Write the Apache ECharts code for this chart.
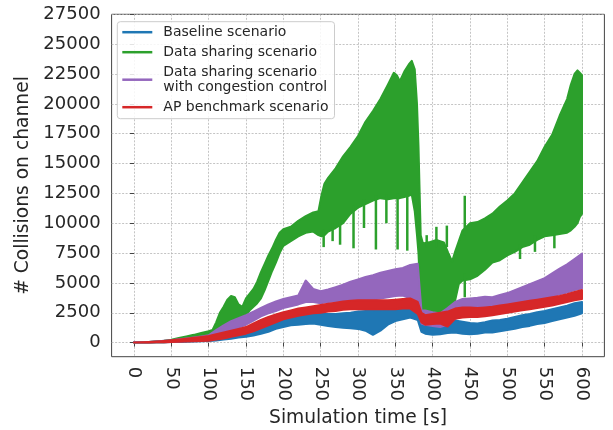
<!DOCTYPE html>
<html>
<head>
<meta charset="utf-8">
<title>Collisions on channel</title>
<script src="https://cdn.jsdelivr.net/npm/echarts@6/dist/echarts.min.js"></script>
<style>
  html, body { margin: 0; padding: 0; background: #fff; }
  #chart { width: 613px; height: 430px; }
</style>
</head>
<body>
<div id="chart"></div>
<script>
// tick labels
const xTicks = [0, 50, 100, 150, 200, 250, 300, 350, 400, 450, 500, 550, 600]
const yTicks = [0, 2500, 5000, 7500, 10000, 12500, 15000, 17500, 20000, 22500, 25000, 27500]

// shared time axis (s) for baseline / congestion control / AP benchmark
const timeSec = [0, 10, 20, 30, 40, 50, 60, 70, 80, 90,
  100, 110, 120, 130, 140, 150, 160, 170, 180, 190,
  200, 210, 220, 230, 240, 250, 260, 270, 280, 290,
  300, 310, 320, 330, 340, 350, 360, 370, 380, 385,
  390, 400, 410, 420, 430, 440, 450, 460, 470, 480,
  490, 500, 510, 520, 530, 540, 550, 560, 570, 580,
  590, 600]

// each noisy curve is kept as its lower / upper envelope
const baselineLow = [0, 0, 0, 20, 30, 50, 60, 80, 100, 120,
  140, 180, 250, 330, 420, 500, 600, 750, 900, 1150,
  1300, 1450, 1500, 1550, 1600, 1500, 1400, 1300, 1250, 1200,
  1150, 1000, 650, 1000, 1500, 1800, 1950, 2100, 1900, 900,
  750, 650, 700, 800, 850, 750, 700, 750, 850, 850,
  950, 1050, 1150, 1300, 1400, 1550, 1650, 1800, 1950, 2100,
  2250, 2450]
const baselineHigh = [30, 40, 60, 90, 120, 150, 180, 220, 260, 300,
  340, 400, 520, 650, 800, 950, 1150, 1400, 1650, 1950,
  2150, 2250, 2300, 2350, 2450, 2450, 2400, 2400, 2450, 2500,
  2600, 2650, 2650, 2700, 2800, 2900, 3000, 3100, 3000, 2100,
  1750, 1600, 1700, 1800, 1850, 1750, 1650, 1600, 1700, 1850,
  1900, 2000, 2150, 2300, 2400, 2550, 2650, 2800, 2950, 3100,
  3300, 3400]

const congestionLow = [0, 0, 0, 20, 40, 60, 100, 150, 200, 250,
  300, 450, 700, 1000, 1250, 1500, 1850, 2200, 2450, 2650,
  2900, 3050, 3200, 3400, 3400, 3300, 3400, 3450, 3450, 3500,
  3500, 3550, 3600, 3700, 3800, 3900, 3950, 3700, 3300, 1600,
  1500, 1400, 1300, 1500, 2000, 2250, 2300, 2450, 2600, 2800,
  2950, 3000, 3100, 3250, 3400, 3500, 3650, 3850, 4050, 4200,
  4400, 4550]
const congestionHigh = [30, 40, 60, 100, 150, 200, 280, 350, 430, 520,
  620, 1050, 1450, 1800, 2050, 2300, 2600, 2900, 3200, 3450,
  3650, 3800, 3950, 5200, 4500, 4300, 4450, 4650, 4850, 5100,
  5300, 5500, 5650, 5850, 6000, 6150, 6250, 6500, 6600, 2700,
  2700, 2550, 2450, 2900, 3400, 3650, 3700, 3750, 3850, 3800,
  4000, 4150, 4400, 4650, 4900, 5150, 5400, 5800, 6200, 6550,
  7000, 7450]

const benchmarkLow = [0, 0, 10, 20, 30, 50, 70, 90, 110, 130,
  150, 250, 350, 480, 620, 750, 950, 1200, 1450, 1700,
  1950, 2100, 2250, 2350, 2450, 2500, 2600, 2650, 2750, 2800,
  2800, 2800, 2800, 2800, 2800, 2800, 2850, 2850, 2400, 1700,
  1500, 1550, 1600, 1350, 2000, 2100, 2150, 2150, 2200, 2300,
  2400, 2500, 2600, 2700, 2800, 2900, 3000, 3100, 3250, 3400,
  3550, 3650]
const benchmarkHigh = [0, 20, 50, 90, 140, 200, 260, 330, 400, 480,
  560, 700, 850, 1000, 1150, 1300, 1600, 1900, 2150, 2350,
  2550, 2700, 2850, 2950, 3050, 3150, 3250, 3350, 3450, 3500,
  3550, 3550, 3550, 3550, 3550, 3600, 3650, 3700, 3400, 2500,
  2300, 2400, 2500, 2600, 2850, 2950, 2950, 2900, 2950, 3000,
  3100, 3200, 3300, 3400, 3500, 3600, 3700, 3800, 3900, 4050,
  4250, 4400]

// data sharing scenario has its own (denser) time points
const sharingTime = [0, 10, 20, 30, 40, 50, 60, 70, 80, 90,
  100, 105, 110, 115, 120, 125, 130, 135, 140, 145,
  150, 155, 160, 165, 170, 175, 180, 185, 190, 195,
  200, 210, 220, 230, 240, 247, 251, 255, 260, 270,
  280, 290, 300, 310, 320, 330, 340, 348, 352, 356,
  362, 368, 372, 376, 379, 381, 384, 387, 395, 405,
  415, 421, 426, 430, 435, 440, 450, 460, 470, 480,
  490, 500, 510, 520, 530, 540, 550, 560, 570, 580,
  585, 590, 594, 597, 600]
const sharingLow = [0, 0, 10, 20, 40, 80, 150, 250, 350, 450,
  550, 600, 700, 900, 1100, 1400, 1800, 1900, 1700, 1500,
  2300, 2700, 3000, 3300, 3700, 4400, 5200, 6000, 6700, 7500,
  8100, 8500, 8900, 9200, 9300, 9000, 8900, 9000, 9300, 9600,
  10000, 10800, 11300, 11600, 11900, 12100, 12000, 12100, 12100, 12100,
  12200, 12300, 12400, 11000, 9000, 7500, 3000, 2300, 2200, 2200,
  2300, 2500, 2800, 3500, 4900, 5200, 5300, 5600, 6100, 6700,
  6900, 7300, 7600, 8000, 8200, 8600, 8900, 9000, 9100, 9200,
  9400, 9700, 10000, 10500, 10800]
const sharingHigh = [0, 20, 50, 100, 160, 250, 380, 520, 650, 800,
  950, 1050, 1700, 2500, 3000, 3600, 3900, 3800, 3200, 3000,
  3700, 4100, 4500, 5100, 5900, 6600, 7300, 7900, 8600, 9200,
  9500, 9700, 10200, 10600, 10900, 11000, 12300, 13300, 13800, 14600,
  15600, 16400, 17300, 18500, 19400, 20400, 21600, 22600, 22400, 21900,
  22700, 23300, 23600, 22900, 20000, 16500, 9000, 8300, 8400, 8600,
  8400, 7500, 6800, 7600, 8500, 9400, 10000, 10100, 10400, 10800,
  11400, 11900, 12500, 13400, 14300, 15200, 16400, 17400, 19000, 20400,
  21600, 22500, 22800, 22600, 22400]

// single-sample spikes of the data sharing curve
const spikeTime = [254, 266, 276, 294, 308, 324, 338, 353, 366, 392, 405, 419, 443, 443, 517, 537, 563]
const spikeLow = [8000, 8500, 8200, 7900, 9600, 7800, 10000, 7800, 7700, 8000, 8000, 8000, 3800, 9000, 7000, 7600, 7900]
const spikeHigh = [9500, 10000, 10200, 11500, 12000, 12300, 12400, 12500, 12500, 9000, 9700, 9800, 5800, 12300, 8200, 9000, 9400]

const FONT = 'DejaVu Sans'
const TEXT = '#262626'

function bandSeries(name, color, time, low, high) {
  return {
    name: name,
    type: 'custom',
    coordinateSystem: 'cartesian2d',
    data: time.map((t, i) => [t, low[i], high[i]]),
    encode: { x: 0, y: [1, 2] },
    itemStyle: { color: color },
    renderItem: function (params, api) {
      // the whole envelope is drawn once as one polygon
      if (params.dataIndexInside !== 0) return null
      const n = params.dataInsideLength
      const upper = []
      const lower = []
      for (let i = 0; i < n; i++) {
        upper.push(api.coord([api.value(0, i), api.value(2, i)]))
        lower.push(api.coord([api.value(0, i), api.value(1, i)]))
      }
      return {
        type: 'polygon',
        shape: { points: upper.concat(lower.reverse()) },
        style: { fill: color, stroke: color, lineWidth: 2, lineJoin: 'round' }
      }
    }
  }
}

const chart = echarts.init(document.getElementById('chart'))
chart.setOption({
  animation: false,
  backgroundColor: '#fff',
  grid: {
    left: 111.6, right: 8.6, top: 14.3, bottom: 73.3,
    show: true, borderColor: '#444', borderWidth: 1,
    containLabel: false, outerBoundsMode: 'none'
  },
  legend: {
    orient: 'vertical',
    left: 117.3, top: 21.7,
    padding: [3, 6, 4, 5],
    itemGap: 5,
    itemWidth: 30, itemHeight: 2.5,
    icon: 'rect',
    backgroundColor: 'rgba(255,255,255,0.85)',
    borderColor: '#cccccc', borderWidth: 1, borderRadius: 3,
    textStyle: { fontFamily: FONT, fontSize: 14, lineHeight: 15, color: TEXT, padding: [0, 0, 0, 6] },
    data: ['Baseline scenario', 'Data sharing scenario', 'Data sharing scenario\nwith congestion control', 'AP benchmark scenario']
  },
  xAxis: {
    type: 'value', min: -30, max: 630,
    name: 'Simulation time [s]', nameLocation: 'middle', nameGap: 47,
    nameTextStyle: { fontFamily: FONT, fontSize: 18.7, color: TEXT },
    axisLine: { show: false },
    axisTick: { show: true, length: 4, customValues: xTicks, lineStyle: { color: '#444' } },
    axisLabel: { customValues: xTicks, rotate: -90, margin: 10, fontFamily: FONT, fontSize: 18, color: TEXT,
      formatter: v => String(v) },
    splitLine: { show: true, lineStyle: { color: '#b5b5b5', width: 0.8, type: [2, 1.5] } }
  },
  yAxis: {
    type: 'value', min: -1180, max: 27500,
    name: '# Collisions on channel', nameLocation: 'middle', nameGap: 77,
    nameTextStyle: { fontFamily: FONT, fontSize: 18.7, color: TEXT },
    axisLine: { show: false },
    axisTick: { show: true, length: 4, customValues: yTicks, lineStyle: { color: '#444' } },
    axisLabel: { customValues: yTicks, margin: 11, fontFamily: FONT, fontSize: 18, color: TEXT,
      formatter: v => String(v) },
    splitLine: { show: true, lineStyle: { color: '#b5b5b5', width: 0.8, type: [2, 1.5] } }
  },
  series: [
    bandSeries('Baseline scenario', '#1f77b4', timeSec, baselineLow, baselineHigh),
    bandSeries('Data sharing scenario', '#2ca02c', sharingTime, sharingLow, sharingHigh),
    {
      name: 'Data sharing scenario',
      type: 'custom',
      coordinateSystem: 'cartesian2d',
      data: spikeTime.map((t, i) => [t, spikeLow[i], spikeHigh[i]]),
      encode: { x: 0, y: [1, 2] },
      itemStyle: { color: '#2ca02c' },
      renderItem: function (params, api) {
        const a = api.coord([api.value(0), api.value(1)])
        const b = api.coord([api.value(0), api.value(2)])
        return {
          type: 'line',
          shape: { x1: a[0], y1: a[1], x2: b[0], y2: b[1] },
          style: { stroke: '#2ca02c', lineWidth: 2.5 }
        }
      }
    },
    bandSeries('Data sharing scenario\nwith congestion control', '#9467bd', timeSec, congestionLow, congestionHigh),
    bandSeries('AP benchmark scenario', '#d62728', timeSec, benchmarkLow, benchmarkHigh)
  ]
})
</script>
</body>
</html>
